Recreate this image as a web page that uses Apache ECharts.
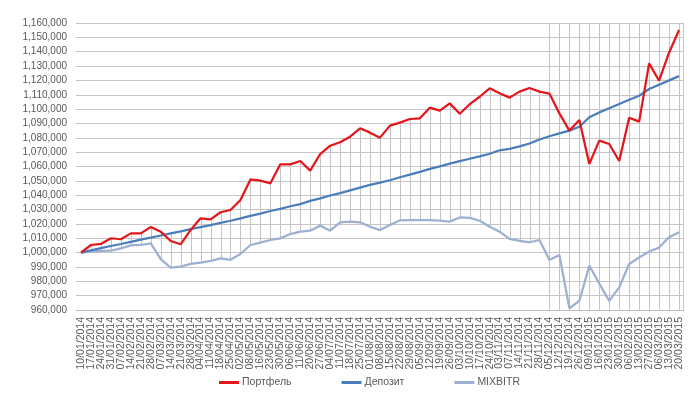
<!DOCTYPE html>
<html><head><meta charset="utf-8">
<script src="https://cdn.jsdelivr.net/npm/echarts@6/dist/echarts.min.js"></script>
<style>html,body{margin:0;padding:0;background:#fff}#c{width:695px;height:396px}</style>
</head><body><div id="c"></div>
<script>
const categories = ["10/01/2014","17/01/2014","24/01/2014","31/01/2014","07/02/2014","14/02/2014","21/02/2014","28/02/2014","07/03/2014","14/03/2014","21/03/2014","28/03/2014","04/04/2014","11/04/2014","18/04/2014","25/04/2014","02/05/2014","08/05/2014","16/05/2014","23/05/2014","30/05/2014","06/06/2014","11/06/2014","20/06/2014","27/06/2014","04/07/2014","11/07/2014","18/07/2014","25/07/2014","01/08/2014","08/08/2014","15/08/2014","22/08/2014","29/08/2014","05/09/2014","12/09/2014","19/09/2014","26/09/2014","03/10/2014","10/10/2014","17/10/2014","24/10/2014","03/11/2014","07/11/2014","14/11/2014","21/11/2014","28/11/2014","05/12/2014","12/12/2014","19/12/2014","26/12/2014","09/01/2015","16/01/2015","23/01/2015","30/01/2015","06/02/2015","13/02/2015","27/02/2015","06/03/2015","13/03/2015","20/03/2015"];
const portfolio = [1000000,1005300,1006000,1010000,1009300,1013400,1013400,1017800,1014600,1008100,1005800,1015800,1023900,1023200,1028100,1029700,1036700,1051000,1050100,1048300,1061500,1061500,1063800,1057100,1068700,1074500,1076900,1080800,1086600,1083600,1080100,1088500,1090600,1093100,1093600,1101000,1098900,1104000,1096800,1103400,1108600,1114500,1111000,1108000,1112200,1114700,1112200,1110800,1097000,1085000,1092400,1061800,1078000,1075700,1063800,1094000,1091300,1131900,1119800,1139300,1155100];
const deposit = [1000000,1001600,1003100,1004600,1006000,1007500,1009000,1010400,1011900,1013400,1014800,1016300,1017800,1019200,1020700,1022200,1023800,1025600,1027200,1029000,1030500,1032300,1033800,1036000,1037800,1039800,1041500,1043400,1045300,1047200,1048700,1050400,1052500,1054300,1056300,1058300,1060100,1062000,1063700,1065400,1067000,1068900,1071300,1072300,1074000,1076000,1078800,1081100,1083100,1085000,1087700,1094300,1097700,1100600,1103600,1106500,1109300,1114000,1117000,1120000,1123000];
const mixbitr = [1000000,1000800,1001200,1001300,1003000,1005000,1005300,1006400,995500,989500,990200,992100,993000,994200,996000,995000,999000,1005300,1006900,1008800,1009900,1012900,1014600,1015300,1018800,1015300,1021100,1021500,1021100,1018000,1015700,1019200,1022500,1022700,1022700,1022700,1022300,1021600,1024500,1024200,1022200,1018000,1014600,1009500,1008100,1007200,1008800,994850,998300,961200,966300,990900,978500,966300,975800,992100,996600,1000800,1003500,1010700,1014200];
const yTicks = {min: 960000, max: 1160000, step: 10000};
const fullLineFrom = 47;

const hl = categories.map((c, i) => {
  const v = [portfolio[i], deposit[i], mixbitr[i]];
  return [i, Math.max(...v), Math.min(...v)];
});

const chart = echarts.init(document.getElementById('c'), null, {renderer: 'canvas'});
const txt = '#595959';
chart.setOption({
  animation: false,
  grid: {left: 76, right: 11, top: 23, bottom: 86, show: false},
  legend: {
    data: ['Портфель', 'Депозит', 'MIXBITR'],
    left: 214, top: 372, itemGap: 50, itemWidth: 20, itemHeight: 3, icon: 'rect',
    textStyle: {color: txt, fontSize: 10.5, fontFamily: 'Liberation Sans', padding: [0, 0, 0, -2]}
  },
  xAxis: {
    type: 'category', data: categories, boundaryGap: true,
    axisLine: {show: true, lineStyle: {color: '#bfbfbf'}},
    axisTick: {show: false},
    axisLabel: {rotate: 90, interval: 0, color: txt, fontSize: 10.5, fontFamily: 'Liberation Sans', margin: 7},
    splitLine: {show: false}
  },
  yAxis: {
    type: 'value', min: yTicks.min, max: yTicks.max, interval: yTicks.step,
    axisLine: {show: false}, axisTick: {show: false},
    axisLabel: {color: txt, fontSize: 10, fontFamily: 'Liberation Sans', margin: 9,
      formatter: v => v.toLocaleString('en-US')},
    splitLine: {lineStyle: {color: '#c6c6c6', width: 1}}
  },
  series: [
    {
      type: 'custom', name: 'hl', silent: true, z: 2, clip: false,
      dimensions: ['idx', 'hi', 'lo'],
      renderItem: function (params, api) {
        const i = api.value(0);
        const hi = api.value(1), lo = api.value(2);
        const top = api.coord([i, hi]);
        const bot = api.coord([i, lo]);
        const cs = params.coordSys;
        let y1 = top[1], y2 = bot[1];
        if (i >= fullLineFrom) { y1 = cs.y; y2 = cs.y + cs.height; }
        const x = Math.round(top[0]) + 0.5;
        return {type: 'line', shape: {x1: x, y1: y1, x2: x, y2: y2},
          style: {stroke: '#c4c4c4', lineWidth: 1}};
      },
      data: hl, encode: {x: 0, y: 1}
    },
    {
      type: 'custom', name: 'border', silent: true, z: 1,
      renderItem: function (params, api) {
        if (params.dataIndex !== 0) return null;
        const cs = params.coordSys;
        const x = cs.x + cs.width - 0.5;
        return {type: 'line', shape: {x1: x, y1: cs.y, x2: x, y2: cs.y + cs.height},
          style: {stroke: '#c6c6c6', lineWidth: 1}};
      },
      data: [[0, yTicks.min]]
    },
    {name: 'MIXBITR', type: 'line', data: mixbitr, symbol: 'none', z: 3,
      lineStyle: {color: '#9db0d2', width: 2.25}, itemStyle: {color: '#9db0d2'}},
    {name: 'Депозит', type: 'line', data: deposit, symbol: 'none', z: 4,
      lineStyle: {color: '#4a7ebb', width: 2.25}, itemStyle: {color: '#4a7ebb'}},
    {name: 'Портфель', type: 'line', data: portfolio, symbol: 'none', z: 5,
      lineStyle: {color: '#e3161c', width: 2.25}, itemStyle: {color: '#e3161c'}}
  ]
});
</script></body></html>
